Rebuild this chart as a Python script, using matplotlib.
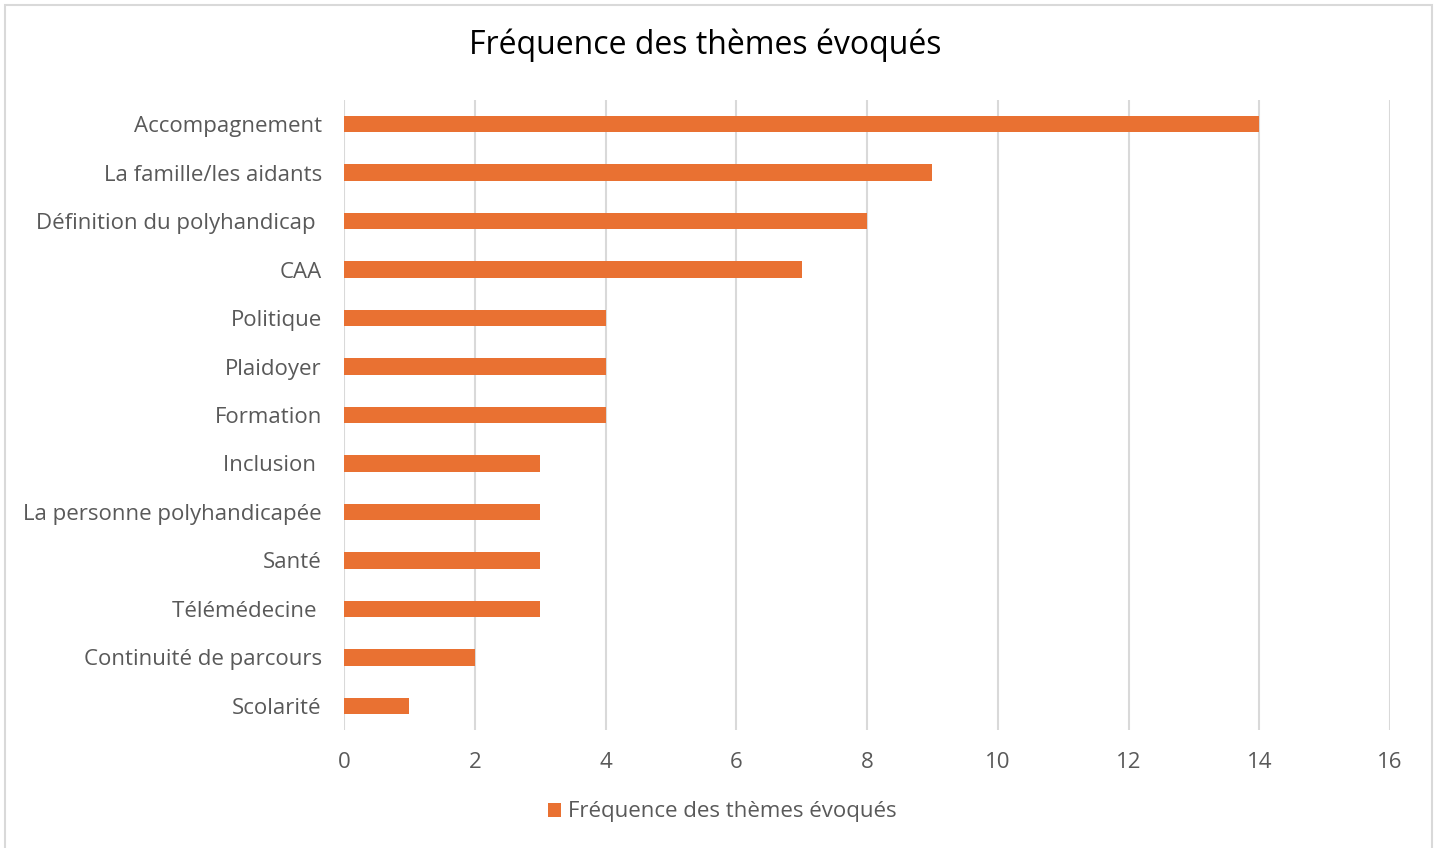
import matplotlib
matplotlib.use("Agg")
import matplotlib.pyplot as plt
from matplotlib.patches import Rectangle

plt.rcParams["font.family"] = ["Open Sans", "DejaVu Sans"]

themes = ["Accompagnement", "La famille/les aidants", "Définition du polyhandicap ",
          "CAA", "Politique", "Plaidoyer", "Formation", "Inclusion ",
          "La personne polyhandicapée", "Santé", "Télémédecine ",
          "Continuité de parcours", "Scolarité"]
freq = [14, 9, 8, 7, 4, 4, 4, 3, 3, 3, 3, 2, 1]
xticks = [0, 2, 4, 6, 8, 10, 12, 14, 16]

ORANGE = "#E97132"
GREY_TXT = "#595959"
GRID = "#D9D9D9"

fig = plt.figure(figsize=(14.38, 8.48), dpi=100)
fig.patches.append(Rectangle((5 / 1438, -0.01), 1427 / 1438, 1 - 5 / 848 + 0.01,
                             transform=fig.transFigure, fill=False,
                             edgecolor="#D9D9D9", linewidth=1.5))
ax = fig.add_axes([344 / 1438, 1 - 730 / 848, 1046 / 1438, 630 / 848])

y = list(range(len(themes)))
ax.barh(y, freq, height=0.34, color=ORANGE, zorder=3,
        label="Fréquence des thèmes évoqués")
ax.set_ylim(len(themes) - 0.5, -0.5)
ax.set_xlim(0, 16)
ax.set_xticks(xticks)
ax.set_yticks(y)
ax.set_yticklabels(themes)
ax.tick_params(axis="both", length=0, labelsize=16, colors=GREY_TXT)
ax.tick_params(axis="y", pad=16)
ax.tick_params(axis="x", pad=16)
ax.grid(axis="x", color=GRID, linewidth=1.5, zorder=0)
for s in ax.spines.values():
    s.set_visible(False)

fig.text(705 / 1438, 1 - 45 / 848, "Fréquence des thèmes évoqués",
         ha="center", va="center", fontsize=23, color="black")
fig.legend(loc="center", bbox_to_anchor=(722 / 1438, 1 - 812 / 848),
           frameon=False, fontsize=16, labelcolor=GREY_TXT,
           handlelength=0.6, handleheight=0.6, handletextpad=0.3)

plt.savefig("out.png", dpi=100)
